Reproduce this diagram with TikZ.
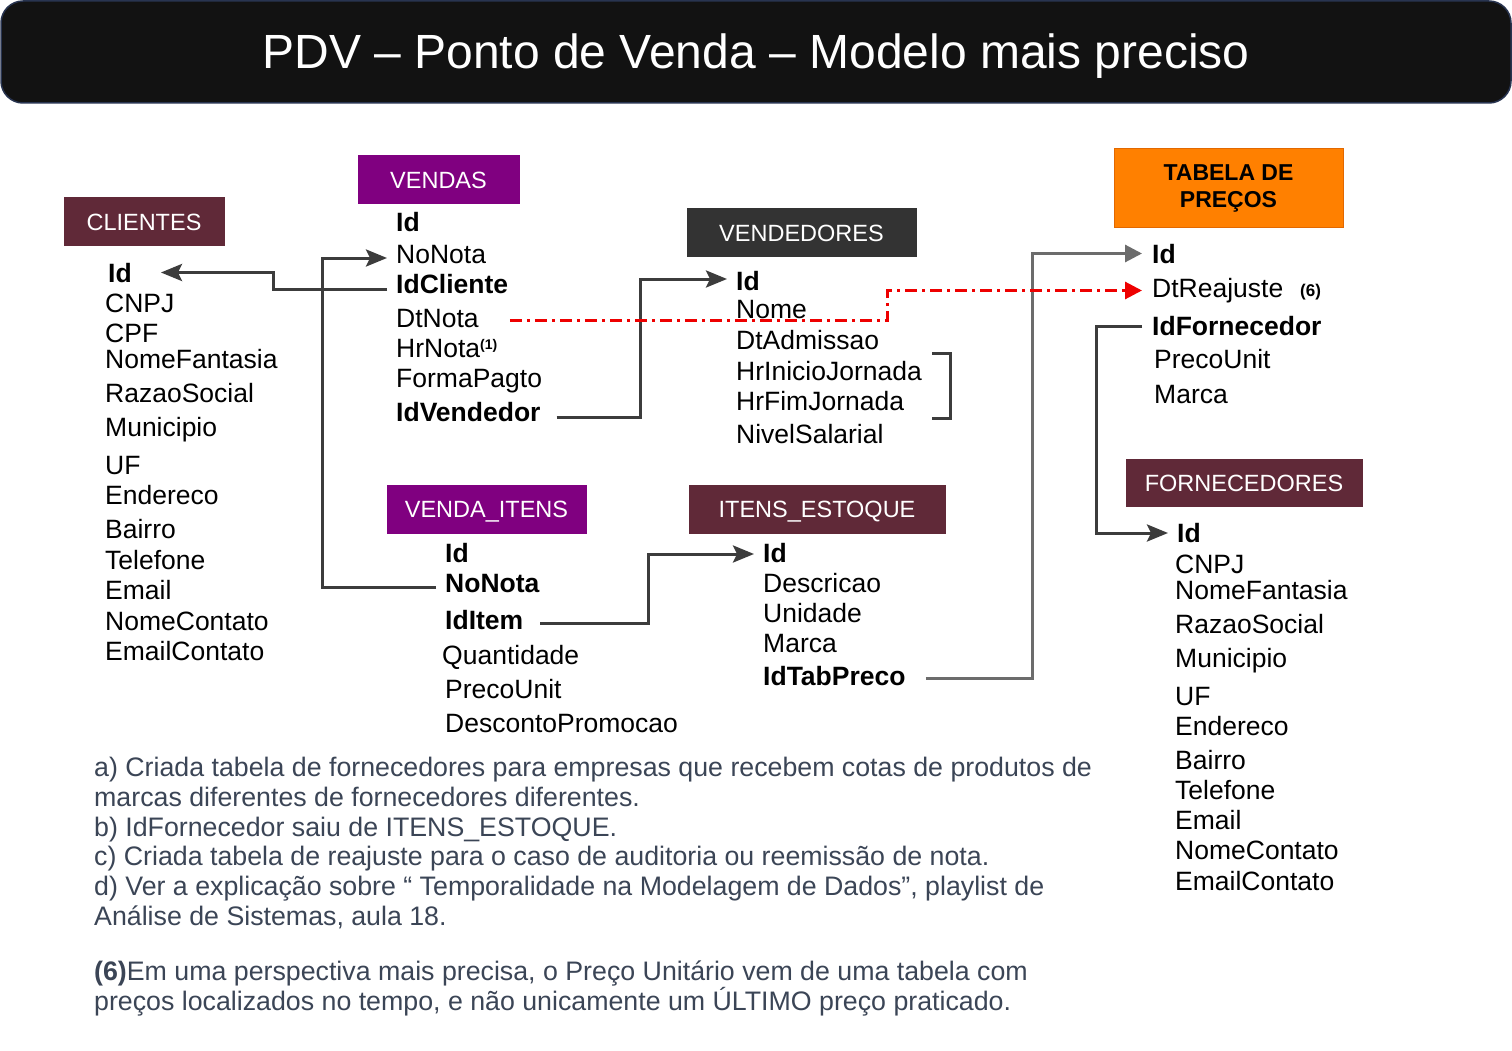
\documentclass[tikz,border=0pt]{standalone}
\usepackage{fontspec}
\setmainfont{Liberation Sans}
\usetikzlibrary{arrows.meta,calc}
\definecolor{cmaroon}{RGB}{96,41,56}
\definecolor{cpurple}{RGB}{128,0,128}
\definecolor{cvend}{RGB}{51,51,51}
\definecolor{corange}{RGB}{255,128,0}
\definecolor{corangeb}{RGB}{226,104,0}
\definecolor{cdark}{RGB}{60,60,60}
\definecolor{cgray}{RGB}{108,108,108}
\definecolor{cred}{RGB}{238,0,0}
\definecolor{cbar}{RGB}{18,18,18}
\definecolor{cbarb}{RGB}{40,52,80}
\definecolor{cfoot}{RGB}{59,69,86}
\newcommand\myfs{\fontsize{26.5}{30}\selectfont}
\newcommand\myffs{\fontsize{26.75}{30}\selectfont}
\newcommand\myhfs{\fontsize{23.5}{27}\selectfont}
\begin{document}
\begin{tikzpicture}[x=1pt,y=-1pt,
  fld/.style={anchor=base west, inner sep=0pt, text height=19pt, text depth=0pt, font=\myfs, text=black},
  fb/.style={fld, font=\myfs\bfseries},
  hdr/.style={inner sep=0pt, text=white, font=\myhfs, text height=17pt, text depth=0pt, line width=1pt},
  foot/.style={anchor=base west, inner sep=0pt, font=\myffs, text=cfoot},
  conn/.style={draw=cdark, line width=3pt, -{Stealth[length=21pt,width=17pt,inset=4pt]}},
  conng/.style={draw=cgray, line width=3pt, -{Triangle[length=17pt,width=17pt]}},
  connr/.style={draw=cred, line width=3pt, dash pattern=on 12pt off 5pt on 3pt off 5pt, -{Triangle[length=17pt,width=17pt,fill=cred]}}
]
\useasboundingbox (0,0) rectangle (1512,1051);
\fill[white] (0,0) rectangle (1512,1051);

% title bar
\draw[draw=cbarb, fill=cbar, line width=1.5pt, rounded corners=22pt] (1,1) rectangle (1511,103);
\node[anchor=base, inner sep=0pt, text=white, font=\fontsize{48}{56}\selectfont] (title) at (756,69) {PDV – Ponto de Venda – Modelo mais preciso};

% headers
\node[hdr, fill=cmaroon, draw=cmaroon, minimum width=160pt, minimum height=47pt] (cl-h) at (144,221.5) {CLIENTES};
\node[hdr, fill=cpurple, draw=cpurple, minimum width=161pt, minimum height=48pt] (vd-h) at (438.5,180) {VENDAS};
\node[hdr, fill=cvend, draw=cvend, minimum width=229pt, minimum height=47pt] (vn-h) at (801.5,232.5) {VENDEDORES};
\node[inner sep=0pt, fill=corange, draw=corangeb, line width=1pt, minimum width=229pt, minimum height=78pt, align=center, font=\fontsize{23}{27}\selectfont\bfseries, text=black] (tp-h) at (1228.5,188) {TABELA DE\\PREÇOS};
\node[hdr, fill=cpurple, draw=cpurple, minimum width=199pt, minimum height=48pt] (vi-h) at (486.5,509) {VENDA\_ITENS};
\node[hdr, fill=cmaroon, draw=cmaroon, minimum width=256pt, minimum height=48pt] (ie-h) at (817,509) {ITENS\_ESTOQUE};
\node[hdr, fill=cmaroon, draw=cmaroon, minimum width=236pt, minimum height=47pt] (fn-h) at (1244,482.5) {FORNECEDORES};

% CLIENTES
\node[fb]  (cl-id)    at (108,282) {Id};
\node[fld] (cl-cnpj)  at (105,312) {CNPJ};
\node[fld] (cl-cpf)   at (105,342) {CPF};
\node[fld] (cl-nf)    at (105,368) {NomeFantasia};
\node[fld] (cl-rs)    at (105,402) {RazaoSocial};
\node[fld] (cl-mun)   at (105,436) {Municipio};
\node[fld] (cl-uf)    at (105,474) {UF};
\node[fld] (cl-end)   at (105,504) {Endereco};
\node[fld] (cl-bai)   at (105,538) {Bairro};
\node[fld] (cl-tel)   at (105,569) {Telefone};
\node[fld] (cl-email) at (105,599) {Email};
\node[fld] (cl-nc)    at (105,630) {NomeContato};
\node[fld] (cl-ec)    at (105,660) {EmailContato};

% VENDAS
\node[fb]  (vd-id)     at (396,232) {Id};
\node[fld] (vd-nonota) at (396,263) {NoNota};
\node[fb]  (vd-idcli)  at (396,293) {IdCliente};
\node[fld] (vd-dtnota) at (396,327) {DtNota};
\node[fld] (vd-hrnota) at (396,357) {HrNota\raisebox{8pt}{\fontsize{14}{14}\selectfont\bfseries(1)}};
\node[fld] (vd-forma)  at (396,387) {FormaPagto};
\node[fb]  (vd-idvend) at (396,421) {IdVendedor};

% VENDEDORES
\node[fb]  (vn-id)    at (736,290) {Id};
\node[fld] (vn-nome)  at (736,318) {Nome};
\node[fld] (vn-dtadm) at (736,349) {DtAdmissao};
\node[fld] (vn-hrini) at (736,380) {HrInicioJornada};
\node[fld] (vn-hrfim) at (736,410) {HrFimJornada};
\node[fld] (vn-nivel) at (736,443) {NivelSalarial};
\draw[draw=cdark, line width=3pt] (932,353) -- (950,353) -- (950,418) -- (932,418);

% TABELA DE PRECOS
\node[fb]  (tp-id)  at (1152,263) {Id};
\node[fld] (tp-dtr) at (1152,297) {DtReajuste};
\node[anchor=base west, inner sep=0pt, font=\fontsize{17}{20}\selectfont\bfseries] (tp-six) at (1300,296) {(6)};
\node[fb]  (tp-idf) at (1152,335) {IdFornecedor};
\node[fld] (tp-pu)  at (1154,368) {PrecoUnit};
\node[fld] (tp-mar) at (1154,403) {Marca};

% VENDA_ITENS
\node[fb]  (vi-id)     at (445,562) {Id};
\node[fb]  (vi-nonota) at (445,592) {NoNota};
\node[fb]  (vi-iditem) at (445,629) {IdItem};
\node[fld] (vi-qtd)    at (442,664) {Quantidade};
\node[fld] (vi-pu)     at (445,698) {PrecoUnit};
\node[fld] (vi-desc)   at (445,732) {DescontoPromocao};

% ITENS_ESTOQUE
\node[fb]  (ie-id)   at (763,562) {Id};
\node[fld] (ie-desc) at (763,592) {Descricao};
\node[fld] (ie-un)   at (763,622) {Unidade};
\node[fld] (ie-mar)  at (763,652) {Marca};
\node[fb]  (ie-idtp) at (763,685) {IdTabPreco};

% FORNECEDORES
\node[fb]  (fn-id)    at (1177,542) {Id};
\node[fld] (fn-cnpj)  at (1175,573) {CNPJ};
\node[fld] (fn-nf)    at (1175,599) {NomeFantasia};
\node[fld] (fn-rs)    at (1175,633) {RazaoSocial};
\node[fld] (fn-mun)   at (1175,667) {Municipio};
\node[fld] (fn-uf)    at (1175,705) {UF};
\node[fld] (fn-end)   at (1175,735) {Endereco};
\node[fld] (fn-bai)   at (1175,769) {Bairro};
\node[fld] (fn-tel)   at (1175,799) {Telefone};
\node[fld] (fn-email) at (1175,829) {Email};
\node[fld] (fn-nc)    at (1175,859) {NomeContato};
\node[fld] (fn-ec)    at (1175,890) {EmailContato};

% connectors
\draw[conn] ($(vd-idcli.west)+(-9,6)$) -- ++(-114,0) |- ($(cl-id.east)+(29,0)$);
\draw[conn] ($(vi-nonota.west)+(-9,4.5)$) -- ++(-114,0) |- ($(vd-nonota.west)+(-9,4.5)$);
\draw[conn] ($(vd-idvend.east)+(16,5.5)$) -- ++(84,0) |- ($(vn-id.west)+(-9,-1.5)$);
\draw[conn] ($(vi-iditem.east)+(17,3.5)$) -- ++(108,0) |- ($(ie-id.west)+(-9,1.5)$);
\draw[conng] ($(ie-idtp.east)+(20,2.5)$) -- ++(107,0) |- ($(tp-id.west)+(-10,0)$);
\draw[conn] ($(tp-idf.west)+(-10,0.5)$) -- ++(-46,0) |- ($(fn-id.west)+(-9,0.5)$);
\draw[connr] ($(vd-dtnota.east)+(31,2.5)$) -- ++(378,0) |- ($(tp-dtr.west)+(-10,3)$);

% notes
\node[foot] (n1) at (94,776) {a) Criada tabela de fornecedores para empresas que recebem cotas de produtos de};
\node[foot] (n2) at (94,806) {marcas diferentes de fornecedores diferentes.};
\node[foot] (n3) at (94,836) {b) IdFornecedor saiu de ITENS\_ESTOQUE.};
\node[foot] (n4) at (94,865) {c) Criada tabela de reajuste para o caso de auditoria ou reemissão de nota.};
\node[foot] (n5) at (94,895) {d) Ver a explicação sobre “ Temporalidade na Modelagem de Dados”, playlist de};
\node[foot] (n6) at (94,925) {Análise de Sistemas, aula 18.};
\node[foot] (n7) at (94,980) {{\bfseries (6)}Em uma perspectiva mais precisa, o Preço Unitário vem de uma tabela com};
\node[foot] (n8) at (94,1010) {preços localizados no tempo, e não unicamente um ÚLTIMO preço praticado.};
\end{tikzpicture}
\end{document}
